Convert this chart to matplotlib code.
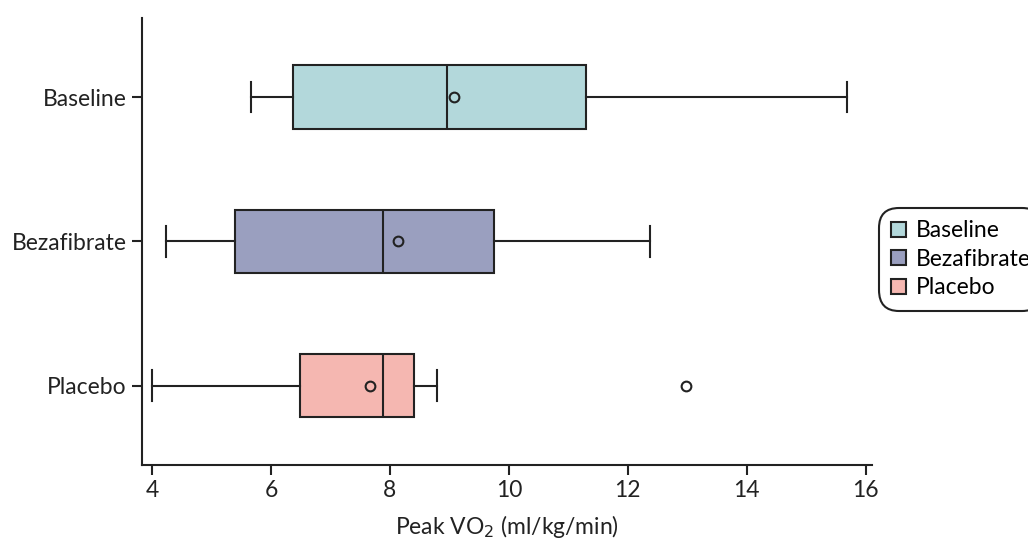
import matplotlib
matplotlib.use("Agg")
import matplotlib.pyplot as plt
from matplotlib.patches import Patch

plt.rcParams['font.family'] = ['Lato', 'DejaVu Sans']

groups = ['Baseline', 'Bezafibrate', 'Placebo']
colors = ['#b3d8db', '#9a9fbf', '#f5b7b1']
whislo = [5.67, 4.24, 4.0]
q1 = [6.37, 5.39, 6.49]
med = [8.96, 7.88, 7.88]
q3 = [11.29, 9.75, 8.41]
whishi = [15.68, 12.37, 8.79]
means = [9.07, 8.13, 7.67]
fliers = [[], [], [12.98]]

stats = []
for i in range(len(groups)):
    stats.append(dict(label=groups[i], whislo=whislo[i], q1=q1[i], med=med[i],
                      q3=q3[i], whishi=whishi[i], mean=means[i], fliers=fliers[i]))

fig = plt.figure(figsize=(10.28, 5.4), dpi=100)
ax = fig.add_axes([0.138, 0.139, 0.710, 0.828])

pos = [2, 1, 0]
edge = '#222222'
fs = 16.5
bp = ax.bxp(stats, positions=pos, orientation='horizontal', widths=0.44,
            patch_artist=True, showmeans=True, showfliers=True,
            boxprops=dict(edgecolor=edge, linewidth=1.5),
            medianprops=dict(color=edge, linewidth=1.5),
            whiskerprops=dict(color=edge, linewidth=1.5),
            capprops=dict(color=edge, linewidth=1.5),
            capwidths=0.21,
            meanprops=dict(marker='o', markerfacecolor='none', markeredgecolor=edge,
                           markersize=7, markeredgewidth=1.5),
            flierprops=dict(marker='o', markerfacecolor='none', markeredgecolor=edge,
                            markersize=7, markeredgewidth=1.5))
for b, c in zip(bp['boxes'], colors):
    b.set_facecolor(c)

ax.set_xlim(3.83, 16.1)
ax.set_ylim(-0.55, 2.55)
ax.set_yticks(pos)
ax.set_yticklabels(groups)
ax.set_xticks([4, 6, 8, 10, 12, 14, 16])
ax.spines['top'].set_visible(False)
ax.spines['right'].set_visible(False)
for s in ['left', 'bottom']:
    ax.spines[s].set_linewidth(1.5)
    ax.spines[s].set_color(edge)
ax.tick_params(axis='both', labelsize=fs, width=1.5, length=7, color=edge, labelcolor='#222222')
ax.tick_params(axis='y', pad=4)
ax.set_xlabel('Peak VO$_2$ (ml/kg/min)', fontsize=fs, color='#222222', labelpad=9)

# legend sits partly outside the canvas, as in the original
handles = [Patch(facecolor=c, edgecolor=edge, linewidth=1.5, label=g) for g, c in zip(groups, colors)]
leg = ax.legend(handles=handles, loc='center left', bbox_to_anchor=(1.0096, 0.46),
                borderaxespad=0, fontsize=fs, frameon=True, fancybox=True,
                edgecolor=edge, framealpha=1,
                handlelength=0.65, handleheight=0.65, handletextpad=0.4,
                labelspacing=0.33, borderpad=0.55)
leg.get_frame().set_linewidth(1.5)
leg.get_frame().set_boxstyle('round', pad=0, rounding_size=0.9)

fig.savefig('out.png', dpi=100)
